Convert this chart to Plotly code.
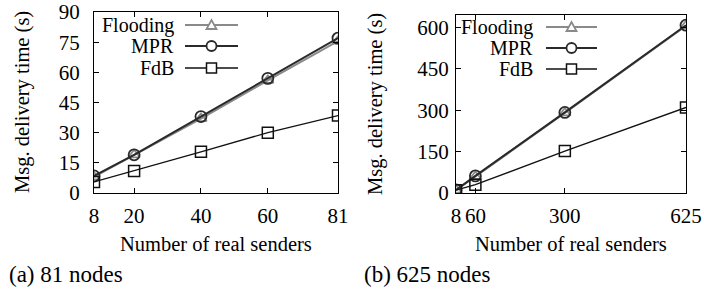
import plotly.graph_objects as go

W, H = 704, 295

# Data (a) 81 nodes
x_a = [8, 20, 40, 60, 81]
flood_a = [8, 19, 37, 56, 75.5]
mpr_a = [8.5, 19, 38, 57, 77]
fdb_a = [5.5, 11, 20.5, 30, 38.5]
xticks_a = [8, 20, 40, 60, 81]
yticks_a = [0, 15, 30, 45, 60, 75, 90]

# Data (b) 625 nodes
x_b = [8, 60, 300, 625]
flood_b = [10, 60, 290, 606]
mpr_b = [11, 62, 292, 608]
fdb_b = [10, 30, 152, 310]
xticks_b = [8, 60, 300, 625]
yticks_b = [0, 150, 300, 450, 600]

series_names = ["Flooding", "MPR", "FdB"]
x_title = "Number of real senders"
y_title = "Msg. delivery time (s)"
captions = ["(a) 81 nodes", "(b) 625 nodes"]

FONT = "Liberation Serif, Times New Roman, serif"
GRAY = "#8a8a8a"
DARK = "#2a2a2a"
BLACK = "#111111"
COLORS = [GRAY, DARK, BLACK]
LW = [2, 2, 1.3]
SYMS = ["triangle-up-open", "circle-open", "square-open"]
MSIZE = [10, 11, 11]

fig = go.Figure()

def add_series(x, ys, xa, ya):
    for name, y, c, lw, s, ms in zip(series_names, ys, COLORS, LW, SYMS, MSIZE):
        fig.add_trace(go.Scatter(x=x, y=y, name=name, mode="lines+markers",
                                 line=dict(color=c, width=lw),
                                 marker=dict(symbol=s, size=ms, color=c, line=dict(width=1.8 if lw > 1.5 else 1.5)),
                                 xaxis=xa, yaxis=ya, showlegend=False))

add_series(x_a, (flood_a, mpr_a, fdb_a), "x", "y")
add_series(x_b, (flood_b, mpr_b, fdb_b), "x2", "y2")

axis_common = dict(showline=True, linecolor="black", linewidth=1, mirror="ticks", automargin=False,
                   ticks="inside", ticklen=5, tickcolor="black", showgrid=False, zeroline=False,
                   tickfont=dict(family=FONT, size=21, color="black"))

def px(xp):
    return xp / W

def py(yp):
    return 1 - yp / H

annotations = []
shapes = []

def txt(text, x, y, size, xanchor="center", angle=0):
    annotations.append(dict(text=text, x=px(x), y=py(y), xref="paper", yref="paper",
                            xanchor=xanchor, yanchor="middle", showarrow=False, textangle=angle,
                            borderpad=0,
                            font=dict(family=FONT, size=size, color="black")))

# titles
txt(y_title, 22, 102, 20.5, angle=-90)
txt(x_title, 216, 244, 20.5)
txt(y_title, 375, 104, 20.5, angle=-90)
txt(x_title, 571, 244, 20.5)
txt(captions[0], 8, 274, 23, xanchor="left")
txt(captions[1], 363, 274, 23, xanchor="left")

# gnuplot-style legend keys: text right-aligned, then line sample with marker
def legend_block(text_right, line_x0, line_x1, rows):
    mx = (line_x0 + line_x1) / 2
    for i, (name, c, lw) in enumerate(zip(series_names, COLORS, LW)):
        yy = rows[i]
        txt(name, text_right, yy, 20, xanchor="right")
        shapes.append(dict(type="line", xref="paper", yref="paper", x0=px(line_x0), x1=px(line_x1),
                           y0=py(yy), y1=py(yy), line=dict(color=c, width=lw)))
        r = 5
        if i == 0:
            path = "M {} {} L {} {} L {} {} Z".format(px(mx - r), py(yy + 4), px(mx + r), py(yy + 4), px(mx), py(yy - 5))
            shapes.append(dict(type="path", xref="paper", yref="paper", path=path,
                               fillcolor="white", line=dict(color=c, width=1.8)))
        elif i == 1:
            shapes.append(dict(type="circle", xref="paper", yref="paper", x0=px(mx - r), x1=px(mx + r),
                               y0=py(yy + r), y1=py(yy - r), fillcolor="white", line=dict(color=c, width=1.8)))
        else:
            shapes.append(dict(type="rect", xref="paper", yref="paper", x0=px(mx - r), x1=px(mx + r),
                               y0=py(yy + r), y1=py(yy - r), fillcolor="white", line=dict(color=c, width=1.5)))

legend_block(175, 185, 238, [25, 46, 68])
legend_block(534, 546, 597, [27, 48, 69])

fig.update_layout(
    template="none",
    width=W, height=H, margin=dict(l=0, r=0, t=0, b=0, autoexpand=False),
    paper_bgcolor="white", plot_bgcolor="white",
    font=dict(family=FONT, color="black"),
    showlegend=False,
    xaxis=dict(domain=[94 / W, 338 / W], range=[8, 81], tickvals=xticks_a, ticklabelstandoff=4,
               **axis_common),
    yaxis=dict(domain=[1 - 193 / H, 1 - 12 / H], range=[0, 90], tickvals=yticks_a, ticklabelstandoff=9,
               **axis_common),
    xaxis2=dict(domain=[456 / W, 686 / W], range=[8, 625], tickvals=xticks_b, anchor="y2", ticklabelstandoff=4,
                **axis_common),
    yaxis2=dict(domain=[1 - 193 / H, 1 - 15 / H], range=[0, 645], tickvals=yticks_b, anchor="x2", ticklabelstandoff=2,
                **axis_common),
    annotations=annotations,
    shapes=shapes,
)

css_fix = (
    "var st=document.createElement('style');"
    "st.textContent='html,body{margin:0 !important;padding:0 !important;overflow:hidden !important;}';"
    "document.head.appendChild(st);"
)

fig.write_html("out.html", config={"displayModeBar": False, "staticPlot": True},
               post_script=css_fix)
